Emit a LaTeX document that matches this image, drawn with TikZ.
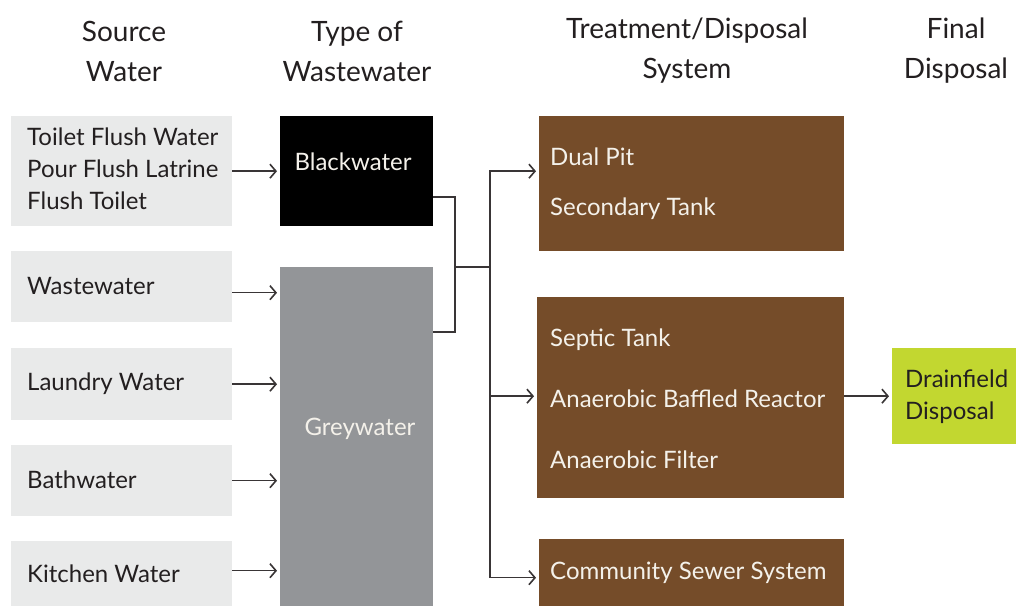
\documentclass[tikz,border=0pt]{standalone}
\usepackage{fontspec}
\setmainfont{Lato}
\usetikzlibrary{arrows.meta,calc}
\definecolor{ink}{HTML}{231F20}
\definecolor{srcfill}{HTML}{E9EAEA}
\definecolor{greyfill}{HTML}{939598}
\definecolor{brownfill}{HTML}{754C29}
\definecolor{greenfill}{HTML}{C2D730}
\definecolor{cream}{HTML}{F4F1EA}
\begin{document}
\begin{tikzpicture}[x=1pt,y=-1pt,
  box/.style={draw=none,rectangle,inner sep=0pt,anchor=north west},
  head/.style={font=\fontsize{28}{40}\selectfont,text=ink,align=center,anchor=center},
  lbl/.style={font=\fontsize{24}{32}\selectfont,anchor=west,inner sep=0pt},
  wire/.style={draw=ink!90,line width=1.5pt},
  arr/.style={wire,-{Straight Barb[length=6pt,width=14pt,line width=1.6pt]},shorten >=3pt}
]
\useasboundingbox[fill=white] (0,0) rectangle (1021,606);

% column headings
\node[head] (h1) at (124,51) {Source\\Water};
\node[head] (h2) at (357,51) {Type of\\Wastewater};
\node[head] (h3) at (687,51) {Treatment/Disposal\\System};
\node[head] (h4) at (956,51) {Final\\Disposal};

% source water boxes
\node[box,fill=srcfill,minimum width=221pt,minimum height=110pt] (s1) at (11,116) {};
\node[box,fill=srcfill,minimum width=221pt,minimum height=71pt] (s2) at (11,251) {};
\node[box,fill=srcfill,minimum width=221pt,minimum height=72pt] (s3) at (11,348) {};
\node[box,fill=srcfill,minimum width=221pt,minimum height=71pt] (s4) at (11,445) {};
\node[box,fill=srcfill,minimum width=221pt,minimum height=65pt] (s5) at (11,541) {};
\node[lbl,text=ink] (t1a) at (27,137) {Toilet Flush Water};
\node[lbl,text=ink] (t1b) at (27,169) {Pour Flush Latrine};
\node[lbl,text=ink] (t1c) at (27,201) {Flush Toilet};
\node[lbl,text=ink] (t2) at (27,286) {Wastewater};
\node[lbl,text=ink] (t3) at (27,384) {Laundry Water};
\node[lbl,text=ink] (t4) at (27,480) {Bathwater};
\node[lbl,text=ink] (t5) at (27,574) {Kitchen Water};

% wastewater types
\node[box,fill=black,minimum width=153pt,minimum height=110pt] (bw) at (280,116) {};
\node[box,fill=greyfill,minimum width=153pt,minimum height=339pt] (gw) at (280,267) {};
\node[lbl,text=cream,anchor=center] (bwt) at (353,162) {Blackwater};
\node[lbl,text=cream,anchor=center] (gwt) at (360,429) {Greywater};

% treatment / disposal systems
\node[box,fill=brownfill,minimum width=305pt,minimum height=135pt] (tp1) at (539,116) {};
\node[box,fill=brownfill,minimum width=307pt,minimum height=201pt] (tp2) at (537,297) {};
\node[box,fill=brownfill,minimum width=305pt,minimum height=67pt] (tp3) at (539,539) {};
\node[lbl,text=cream] (d1) at (550,157) {Dual Pit};
\node[lbl,text=cream] (d2) at (550,209) {Secondary Tank};
\node[lbl,text=cream] (e1) at (550,340) {Septic Tank};
\node[lbl,text=cream] (e2) at (550,399) {Anaerobic Baffled Reactor};
\node[lbl,text=cream] (e3) at (550,460) {Anaerobic Filter};
\node[lbl,text=cream] (f1) at (550,573) {Community Sewer System};

% final disposal
\node[box,fill=greenfill,minimum width=124pt,minimum height=96pt] (dr) at (892,348) {};
\node[lbl,text=ink,align=left] (drt) at (905,397) {Drainfield\\Disposal};

% source -> type
\draw[arr] (s1.east) -- (s1.east -| bw.west);
\draw[arr] ([yshift=-6pt]s2.east) -- ([yshift=-6pt]s2.east -| gw.west);
\draw[arr] (s3.east) -- (s3.east -| gw.west);
\draw[arr] (s4.east) -- (s4.east -| gw.west);
\draw[arr] ([yshift=3pt]s5.east) -- ([yshift=3pt]s5.east -| gw.west);

% type -> treatment
\coordinate (m) at (455,267);
\coordinate (bus) at (490,267);
\draw[wire] (bw.east |- 0,197) -| (m);
\draw[wire] (gw.east |- 0,332) -| (m);
\draw[wire] (m) -- (bus);
\draw[arr] (bus) |- (bw.east -| tp1.west);
\draw[arr] (bus) |- (tp2.west |- dr.west);
\draw[arr] (bus) |- ([yshift=-5pt]tp3.west);

% treatment -> final disposal
\draw[arr] (tp2.east |- dr.west) -- (dr.west);
\end{tikzpicture}
\end{document}
